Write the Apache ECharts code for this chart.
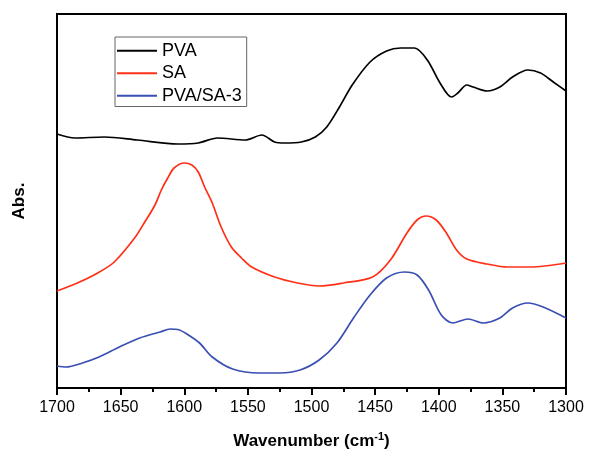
<!DOCTYPE html>
<html>
<head>
<meta charset="utf-8">
<script src="https://cdn.jsdelivr.net/npm/echarts@6/dist/echarts.min.js"></script>
<style>html,body{margin:0;padding:0;background:#fff}#c{width:600px;height:464px}</style>
</head>
<body>
<div id="c"></div>
<script>
const seriesNames = ['PVA', 'SA', 'PVA/SA-3'];
const seriesColors = ['#000000', '#ff3018', '#3a4fb3'];
const xTicks = [1700, 1650, 1600, 1550, 1500, 1450, 1400, 1350, 1300];

const pvaWn  = [1700,1686,1663,1637,1605,1589,1574,1552,1539,1529,1521,1508,1497,1488,1478,1468,1454,1441,1430,1419,1409,1399,1390,1385,1378,1373,1362,1352,1342,1330,1320,1310,1300];
const pvaAbs = [254,250,251,248,244,245,250,248,253,246,245,246,251,261,281,303,326,337,340,340,328,305,291,295,303,301,297,301,311,318,315,306,297];

const saWn  = [1700,1684,1668,1655,1639,1631,1623,1618,1613,1608,1600,1594,1589,1584,1578,1571,1563,1555,1547,1529,1511,1494,1475,1452,1438,1425,1417,1410,1402,1394,1386,1378,1362,1346,1328,1300];
const saAbs = [97,105,115,126,150,166,183,198,210,220,225,223,216,201,185,161,141,130,121,111,105,102,105,111,128,155,168,172,168,155,138,129,124,121,121,125];

const mixWn  = [1700,1693,1680,1667,1651,1635,1619,1611,1605,1598,1588,1578,1562,1541,1525,1509,1494,1480,1467,1454,1441,1427,1417,1408,1398,1389,1377,1365,1352,1342,1330,1318,1300];
const mixAbs = [22,21,25,31,41,50,56,59,58.5,54,45,31,19,15,15,18,28,45,70,93,110,116,113,98,73,65,69,65,70,80,85,81,70];

function pairs(xs, ys) { return xs.map((x, i) => [x, ys[i]]); }
const dataSets = [pairs(pvaWn, pvaAbs), pairs(saWn, saAbs), pairs(mixWn, mixAbs)];

const FONT = 'Liberation Sans, Arial';
const chart = echarts.init(document.getElementById('c'));
chart.setOption({
  animation: false,
  backgroundColor: '#fff',
  grid: { left: 57, right: 34, top: 14, bottom: 76, show: true, borderColor: '#000', borderWidth: 2, backgroundColor: 'transparent' },
  legend: {
    data: seriesNames.map(n => ({ name: n, icon: 'rect' })),
    orient: 'vertical', left: 115, top: 37,
    itemWidth: 40, itemHeight: 2, itemGap: 3,
    padding: [4, 5, 1, 2],
    borderColor: '#666', borderWidth: 1,
    textStyle: { fontFamily: FONT, fontSize: 18, lineHeight: 19.5, color: '#000' }
  },
  xAxis: {
    type: 'value', inverse: true, min: 1300, max: 1700, interval: 50,
    name: '{a|Wavenumber (cm}{s|-1}{a|)}', nameLocation: 'middle', nameGap: 43,
    nameTextStyle: { rich: {
      a: { fontFamily: FONT, fontWeight: 'bold', fontSize: 17, color: '#000' },
      s: { fontFamily: FONT, fontWeight: 'bold', fontSize: 11, color: '#000', verticalAlign: 'top', padding: [0, 0, 9, 0] }
    } },
    axisLine: { show: true, lineStyle: { color: '#000', width: 2 } },
    axisTick: { show: true, length: 7, lineStyle: { color: '#000', width: 2 } },
    minorTick: { show: true, splitNumber: 2, length: 4, lineStyle: { color: '#000', width: 2 } },
    axisLabel: { fontFamily: FONT, fontSize: 16, color: '#000', margin: 12,
      formatter: v => String(v) },
    splitLine: { show: false }
  },
  yAxis: {
    type: 'value', min: 0, max: 374,
    name: 'Abs.', nameLocation: 'middle', nameGap: 29,
    nameTextStyle: { fontFamily: FONT, fontWeight: 'bold', fontSize: 17, color: '#000' },
    axisLine: { show: true, lineStyle: { color: '#000', width: 2 } },
    axisTick: { show: false }, axisLabel: { show: false }, splitLine: { show: false }
  },
  series: seriesNames.map((n, i) => ({
    name: n, type: 'line', data: dataSets[i], smooth: 0.3, symbol: 'none',
    lineStyle: { color: seriesColors[i], width: 1.7 }, itemStyle: { color: seriesColors[i] }
  }))
});
</script>
</body>
</html>
